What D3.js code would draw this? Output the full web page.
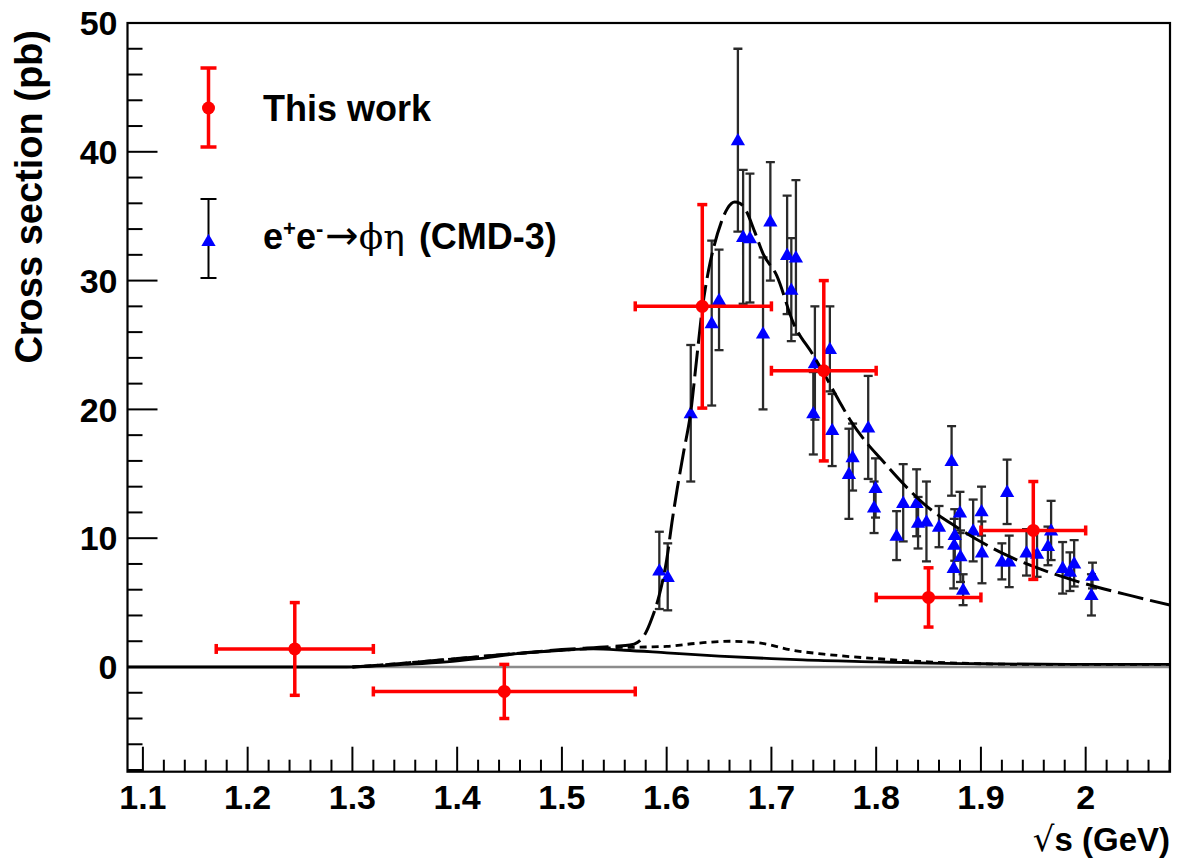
<!DOCTYPE html>
<html>
<head>
<meta charset="utf-8">
<script src="https://cdn.jsdelivr.net/npm/d3@7"></script>
<style>
  html, body { margin: 0; padding: 0; background: #fff; }
  svg { display: block; }
  text { font-family: "Liberation Sans", Arial, Helvetica, sans-serif; }
</style>
</head>
<body>
<svg id="chart" width="1177" height="859"></svg>
<script>
// ---------------- data ----------------
// "This work" points
const workX    = [1.245, 1.445, 1.634, 1.750, 1.850, 1.950];
const workXlo  = [1.170, 1.320, 1.570, 1.700, 1.800, 1.900];
const workXhi  = [1.320, 1.570, 1.700, 1.800, 1.900, 2.000];
const workY    = [1.4, -1.9, 28.0, 23.0, 5.4, 10.6];
const workErr  = [3.6, 2.1, 7.9, 7.0, 2.3, 3.8];

// CMD-3 e+e- -> phi eta points
const cmdX = [1.593, 1.601, 1.623, 1.643, 1.650, 1.668, 1.673, 1.6795, 1.692, 1.699,
              1.715, 1.719, 1.7234, 1.740, 1.7415, 1.7558, 1.758, 1.774, 1.7775, 1.7924,
              1.798, 1.7994, 1.8195, 1.8258, 1.8386, 1.840, 1.848, 1.860, 1.872, 1.874,
              1.8745, 1.875, 1.880, 1.8805, 1.883, 1.8926, 1.9006, 1.901, 1.920, 1.925,
              1.927, 1.9435, 1.9536, 1.964, 1.967, 1.978, 1.985, 1.989, 2.0055, 2.0065];
const cmdY = [7.5, 7.0, 19.7, 26.7, 28.5, 40.9, 33.4, 33.3, 25.9, 34.6,
              32.0, 29.3, 31.8, 19.7, 23.6, 24.7, 18.4, 15.0, 16.3, 18.6,
              12.4, 13.9, 10.2, 12.75, 12.75, 11.2, 11.3, 10.9, 16.0, 7.7,
              9.5, 10.25, 12.0, 8.6, 6.0, 10.6, 12.1, 8.9, 8.2, 13.6,
              8.2, 8.9, 8.8, 9.4, 10.6, 7.7, 7.4, 8.05, 5.6, 7.1];
const cmdErr = [3.0, 2.6, 5.3, 6.4, 3.9, 7.1, 5.2, 5.0, 5.9, 4.6,
                4.6, 4.0, 6.0, 3.2, 4.4, 3.3, 2.8, 3.5, 2.6, 4.0,
                2.0, 2.3, 1.9, 3.0, 2.6, 2.0, 3.1, 1.6, 2.7, 1.6,
                2.0, 2.0, 1.6, 2.0, 1.2, 2.4, 1.9, 2.4, 1.4, 2.5,
                2.0, 1.8, 1.8, 1.5, 2.3, 2.0, 1.5, 1.8, 1.6, 1.0];

// total fit (long dashed)
const fitX = [1.30, 1.35, 1.40, 1.45, 1.50, 1.55, 1.565, 1.572, 1.579, 1.586, 1.593, 1.600, 1.605,
              1.610, 1.616, 1.623, 1.629, 1.634, 1.640, 1.645, 1.652, 1.658, 1.665,
              1.670, 1.676, 1.684, 1.692, 1.705, 1.721, 1.740, 1.750, 1.765, 1.775,
              1.790, 1.804, 1.825, 1.845, 1.878, 1.924, 1.982, 2.045, 2.081];
const fitY = [0.0, 0.3, 0.65, 1.0, 1.35, 1.6, 1.7, 1.9, 2.5, 3.8, 5.6, 8.3, 11.2,
              13.8, 16.6, 19.8, 24.2, 27.8, 30.8, 32.6, 34.5, 35.6, 36.1,
              36.0, 35.4, 33.8, 32.1, 30.4, 26.7, 24.2, 22.8, 20.6, 19.2,
              17.5, 16.2, 14.3, 12.7, 10.8, 8.7, 6.9, 5.5, 4.8];

// dotted component
const dotX = [1.30, 1.35, 1.40, 1.45, 1.50, 1.55, 1.58, 1.60, 1.63, 1.66, 1.69, 1.72,
              1.75, 1.80, 1.85, 1.90, 1.95, 2.00, 2.081];
const dotY = [0.0, 0.3, 0.65, 1.0, 1.3, 1.5, 1.55, 1.6, 1.85, 2.0, 1.85, 1.3,
              1.0, 0.65, 0.4, 0.25, 0.2, 0.2, 0.2];

// solid component
const solX = [1.0853, 1.29, 1.35, 1.39, 1.42, 1.46, 1.50, 1.53, 1.56, 1.60, 1.65, 1.70,
              1.73, 1.80, 1.85, 1.90, 2.00, 2.081];
const solY = [0.0, 0.0, 0.2, 0.4, 0.65, 1.05, 1.3, 1.4, 1.3, 1.1, 0.85, 0.65,
              0.55, 0.4, 0.3, 0.25, 0.2, 0.2];

const xMajor = [1.1, 1.2, 1.3, 1.4, 1.5, 1.6, 1.7, 1.8, 1.9, 2.0];
const xLabels = ["1.1", "1.2", "1.3", "1.4", "1.5", "1.6", "1.7", "1.8", "1.9", "2"];
const yMajor = [0, 10, 20, 30, 40, 50];

// ---------------- layout ----------------
const svg = d3.select("#chart");
const L = 127.5, R = 1170, T = 23, B = 771.7;
const x = d3.scaleLinear().domain([1.0853, 2.0805]).range([L, R]);
const y = d3.scaleLinear().domain([-8.13, 50]).range([B, T]);

const plot = svg.append("g");
plot.append("clipPath").attr("id", "clip").append("rect")
  .attr("x", L).attr("y", T).attr("width", R - L).attr("height", B - T);

// zero line
plot.append("line")
  .attr("x1", L).attr("x2", R).attr("y1", y(0)).attr("y2", y(0))
  .attr("stroke", "#8c8c8c").attr("stroke-width", 2.5);

// ---------------- axes ----------------
const yg = svg.append("g").attr("transform", `translate(${L},0)`);
yg.selectAll("line.tk").data(d3.range(-8, 51, 2)).enter().append("line")
  .attr("x1", 0).attr("x2", d => (d % 10 === 0 ? 30 : 15))
  .attr("y1", d => y(d)).attr("y2", d => y(d))
  .attr("stroke", "#000").attr("stroke-width", 2);
yg.selectAll("text").data(yMajor).enter().append("text")
  .attr("x", -10).attr("y", d => y(d)).attr("dy", "0.36em")
  .attr("text-anchor", "end")
  .attr("font-size", 34).attr("font-weight", "bold").attr("fill", "#000")
  .text(d => d);

const xg = svg.append("g");
const xMinor = d3.range(1.10, 2.081, 0.02).map(v => Math.round(v * 100) / 100);
xg.selectAll("line").data(xMinor).enter().append("line")
  .attr("x1", d => x(d)).attr("x2", d => x(d))
  .attr("y1", B).attr("y2", d => (Math.abs(d * 10 - Math.round(d * 10)) < 1e-6 ? B - 25 : B - 12))
  .attr("stroke", "#000").attr("stroke-width", 2);
xg.selectAll("text").data(xMajor).enter().append("text")
  .attr("x", d => x(d)).attr("y", 809)
  .attr("text-anchor", "middle")
  .attr("font-size", 34).attr("font-weight", "bold").attr("fill", "#000")
  .text((d, i) => xLabels[i]);

// frame
svg.append("rect").attr("x", L).attr("y", T).attr("width", R - L).attr("height", B - T)
  .attr("fill", "none").attr("stroke", "#000").attr("stroke-width", 2.2);

// axis titles
svg.append("text")
  .attr("transform", `translate(42,30) rotate(-90)`)
  .attr("text-anchor", "end")
  .attr("font-size", 38).attr("font-weight", "bold").attr("fill", "#000")
  .text("Cross section (pb)");

const xt = svg.append("text")
  .attr("x", R).attr("y", 851).attr("text-anchor", "end")
  .attr("font-size", 33).attr("font-weight", "bold").attr("fill", "#000");
xt.append("tspan").attr("font-weight", "normal").attr("font-family", "DejaVu Sans")
  .attr("font-size", 34).text("\u221A");
xt.append("tspan").text("s (GeV)");

// ---------------- CMD-3 data ----------------
const cmd = cmdX.map((v, i) => ({ x: v, y: cmdY[i], e: cmdErr[i] }));
const cg = plot.append("g").attr("clip-path", "url(#clip)");
cg.selectAll("line.eb").data(cmd).enter().append("line")
  .attr("x1", d => x(d.x)).attr("x2", d => x(d.x))
  .attr("y1", d => y(d.y - d.e)).attr("y2", d => y(d.y + d.e))
  .attr("stroke", "#2a2a2a").attr("stroke-width", 2.3);
["lo", "hi"].forEach(k => {
  cg.selectAll("line.cap" + k).data(cmd).enter().append("line")
    .attr("x1", d => x(d.x) - 4.5).attr("x2", d => x(d.x) + 4.5)
    .attr("y1", d => y(k === "lo" ? d.y - d.e : d.y + d.e))
    .attr("y2", d => y(k === "lo" ? d.y - d.e : d.y + d.e))
    .attr("stroke", "#2a2a2a").attr("stroke-width", 2.3);
});
const tri = d3.symbol().type(d3.symbolTriangle).size(88);
cg.selectAll("path.tri").data(cmd).enter().append("path")
  .attr("d", tri)
  .attr("transform", d => `translate(${x(d.x)},${y(d.y) + 1})`)
  .attr("fill", "#0000ff");

// ---------------- curves ----------------
const lineGen = d3.line().x(d => x(d[0])).y(d => y(d[1])).curve(d3.curveMonotoneX);
const curves = plot.append("g").attr("clip-path", "url(#clip)");
curves.append("path").datum(solX.map((v, i) => [v, solY[i]]))
  .attr("d", lineGen).attr("fill", "none").attr("stroke", "#000").attr("stroke-width", 2.8);
curves.append("path").datum(dotX.map((v, i) => [v, dotY[i]]))
  .attr("d", lineGen).attr("fill", "none").attr("stroke", "#000").attr("stroke-width", 2.8)
  .attr("stroke-dasharray", "7,5");
curves.append("path").datum(fitX.map((v, i) => [v, fitY[i]]))
  .attr("d", lineGen).attr("fill", "none").attr("stroke", "#000").attr("stroke-width", 3)
  .attr("stroke-dasharray", "26,7");

// ---------------- This work ----------------
const RED = "#ff0000";
const work = workX.map((v, i) => ({ x: v, xl: workXlo[i], xh: workXhi[i], y: workY[i], e: workErr[i] }));
const wg = plot.append("g");
wg.selectAll("line.v").data(work).enter().append("line")
  .attr("x1", d => x(d.x)).attr("x2", d => x(d.x))
  .attr("y1", d => y(d.y - d.e)).attr("y2", d => y(d.y + d.e))
  .attr("stroke", RED).attr("stroke-width", 3.5);
wg.selectAll("line.h").data(work).enter().append("line")
  .attr("x1", d => x(d.xl)).attr("x2", d => x(d.xh))
  .attr("y1", d => y(d.y)).attr("y2", d => y(d.y))
  .attr("stroke", RED).attr("stroke-width", 3.5);
work.forEach(d => {
  [d.y - d.e, d.y + d.e].forEach(v => {
    wg.append("line").attr("x1", x(d.x) - 5).attr("x2", x(d.x) + 5)
      .attr("y1", y(v)).attr("y2", y(v)).attr("stroke", RED).attr("stroke-width", 3.5);
  });
  [d.xl, d.xh].forEach(v => {
    wg.append("line").attr("x1", x(v)).attr("x2", x(v))
      .attr("y1", y(d.y) - 5).attr("y2", y(d.y) + 5).attr("stroke", RED).attr("stroke-width", 3.5);
  });
});
wg.selectAll("circle").data(work).enter().append("circle")
  .attr("cx", d => x(d.x)).attr("cy", d => y(d.y)).attr("r", 6.5).attr("fill", RED);

// ---------------- legend ----------------
const lg = svg.append("g");
const lx = 208.5;
lg.append("line").attr("x1", lx).attr("x2", lx).attr("y1", 68).attr("y2", 147)
  .attr("stroke", RED).attr("stroke-width", 3.5);
[68, 147].forEach(v => lg.append("line").attr("x1", lx - 8).attr("x2", lx + 8)
  .attr("y1", v).attr("y2", v).attr("stroke", RED).attr("stroke-width", 3.5));
lg.append("circle").attr("cx", lx).attr("cy", 108).attr("r", 6.5).attr("fill", RED);
lg.append("text").attr("x", 263).attr("y", 121)
  .attr("font-size", 36).attr("font-weight", "bold").attr("fill", "#000")
  .text("This work");

lg.append("line").attr("x1", lx).attr("x2", lx).attr("y1", 199).attr("y2", 278)
  .attr("stroke", "#000").attr("stroke-width", 2);
[199, 278].forEach(v => lg.append("line").attr("x1", lx - 8).attr("x2", lx + 8)
  .attr("y1", v).attr("y2", v).attr("stroke", "#000").attr("stroke-width", 2));
lg.append("path").attr("d", tri).attr("transform", `translate(${lx},${242})`).attr("fill", "#0000ff");
const lt = lg.append("text").attr("x", 263).attr("y", 249)
  .attr("font-size", 36).attr("font-weight", "bold").attr("fill", "#000");
lt.append("tspan").text("e");
lt.append("tspan").attr("font-size", 22).attr("dy", -13).text("+");
lt.append("tspan").attr("font-size", 36).attr("dy", 13).text("e");
lt.append("tspan").attr("font-size", 22).attr("dy", -13).text("-");
lt.append("tspan").attr("font-size", 40).attr("dy", 13).attr("dx", 2).attr("font-weight", "normal")
  .attr("font-family", "DejaVu Sans").text("\u2192");
lt.append("tspan").attr("font-size", 36).attr("font-weight", "normal")
  .attr("font-family", "DejaVu Serif").text("\u03D5\u03B7");
lt.append("tspan").attr("dx", 4).text(" (CMD-3)");
</script>
</body>
</html>
